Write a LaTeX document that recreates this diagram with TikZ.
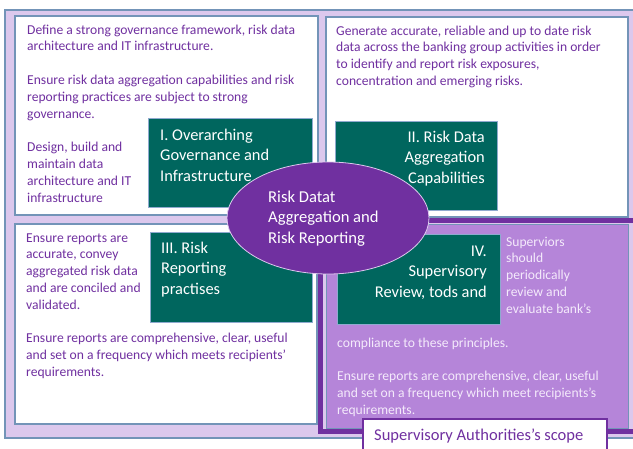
\documentclass[tikz,border=0pt]{standalone}
\usepackage{fontspec}
\setmainfont{Carlito}
\usetikzlibrary{shapes.geometric}

\definecolor{lightpurple}{HTML}{DCC8ED}
\definecolor{midpurple}{HTML}{B585D9}
\definecolor{darkpurple}{HTML}{7030A0}
\definecolor{teal}{HTML}{00665E}
\definecolor{frameblue}{HTML}{7394B8}
\definecolor{tealedge}{HTML}{8FAACF}
\definecolor{paletext}{HTML}{F4EAFB}

\tikzset{
  panel/.style={draw=frameblue, line width=1.2pt, fill=white},
  tealbox/.style={draw=tealedge, line width=0.8pt, fill=teal},
  bodytext/.style={font=\fontsize{13.6}{16.8}\selectfont, text=darkpurple,
    align=left, inner sep=0pt, anchor=north west},
  lighttext/.style={bodytext, text=paletext},
  headleft/.style={font=\fontsize{16.4}{20.5}\selectfont, text=white,
    align=left, inner sep=0pt, anchor=north west},
  headright/.style={font=\fontsize{16.4}{20.5}\selectfont, text=white,
    align=right, inner sep=0pt, anchor=north east},
}

\begin{document}
\begin{tikzpicture}[x=1pt, y=-1pt]
\useasboundingbox (0,0) rectangle (633,448);
\clip (0,0) rectangle (633,448);
\fill[white] (0,0) rectangle (633,448);

% outer frame
\draw[draw=frameblue, line width=1.5pt, fill=lightpurple] (5,10) rectangle (660,438);

% white panels
\draw[panel] (15,16) rectangle (318,215);
\draw[panel] (326,17) rectangle (628,217);
\draw[panel] (15,224) rectangle (317,424);

% supervisory scope frame
\draw[darkpurple, line width=5pt] (320.5,220.5) rectangle (680,431.5);
\draw[draw=frameblue, line width=1pt, fill=midpurple] (326,224.5) rectangle (628,428.5);

% pillar boxes
\draw[tealbox] (148,118) rectangle (312,207);
\draw[tealbox] (335,121) rectangle (497,210);
\draw[tealbox] (150,232) rectangle (312,322);
\draw[tealbox] (337,234) rectangle (500,324);

% panel texts
\node[bodytext] (tl) at (27,22.2) {\strut Define a strong governance framework, risk data\\
architecture and IT infrastructure.\\[16.8pt]
Ensure risk data aggregation capabilities and risk\\
reporting practices are subject to strong\\
governance.\\[16.8pt]
Design, build and\\
maintain data\\
architecture and IT\\
infrastructure};

\node[bodytext] (tr) at (336,23.2) {\strut Generate accurate, reliable and up to date risk\\
data across the banking group activities in order\\
to identify and report risk exposures,\\
concentration and emerging risks.};

\node[bodytext] (bl) at (26,230.2) {\strut Ensure reports are\\
accurate, convey\\
aggregated risk data\\
and are conciled and\\
validated.\\[16.8pt]
Ensure reports are comprehensive, clear, useful\\
and set on a frequency which meets recipients'\\
requirements.};

\node[lighttext] (brside) at (506,234.2) {\strut Superviors\\
should\\
periodically\\
review and\\
evaluate bank's};

\node[lighttext] (brmain) at (337,335.2) {\strut compliance to these principles.\\[16.8pt]
Ensure reports are comprehensive, clear, useful\\
and set on a frequency which meet recipients's\\
requirements.};

% pillar titles
\node[headleft] (p1) at (160,125.6) {\strut I. Overarching\\ Governance and\\ Infrastructure};
\node[headright] (p2) at (485,127.6) {\strut II. Risk Data\\ Aggregation\\ Capabilities};
\node[headleft] (p3) at (161,238.6) {\strut III. Risk\\ Reporting\\ practises};
\node[headright] (p4) at (487,241.6) {\strut IV.\\ Supervisory\\ Review, tods and};

% central ellipse
\node[ellipse, draw=lightpurple, line width=0.8pt, fill=darkpurple,
  minimum width=202pt, minimum height=112pt, inner sep=0pt] (core) at (328,218) {};
\node[headleft, font=\fontsize{16.6}{20.5}\selectfont] (coretext) at (268,187.8)
  {\strut Risk Datat\\ Aggregation and\\ Risk Reporting};

% scope label
\draw[draw=darkpurple, line width=1.3pt, fill=white] (363,419) rectangle (607,460);
\node[font=\fontsize{16.5}{17}\selectfont, text=darkpurple, inner sep=0pt,
  anchor=base west] (scope) at (374,440) {Supervisory Authorities's scope};
\end{tikzpicture}
\end{document}
